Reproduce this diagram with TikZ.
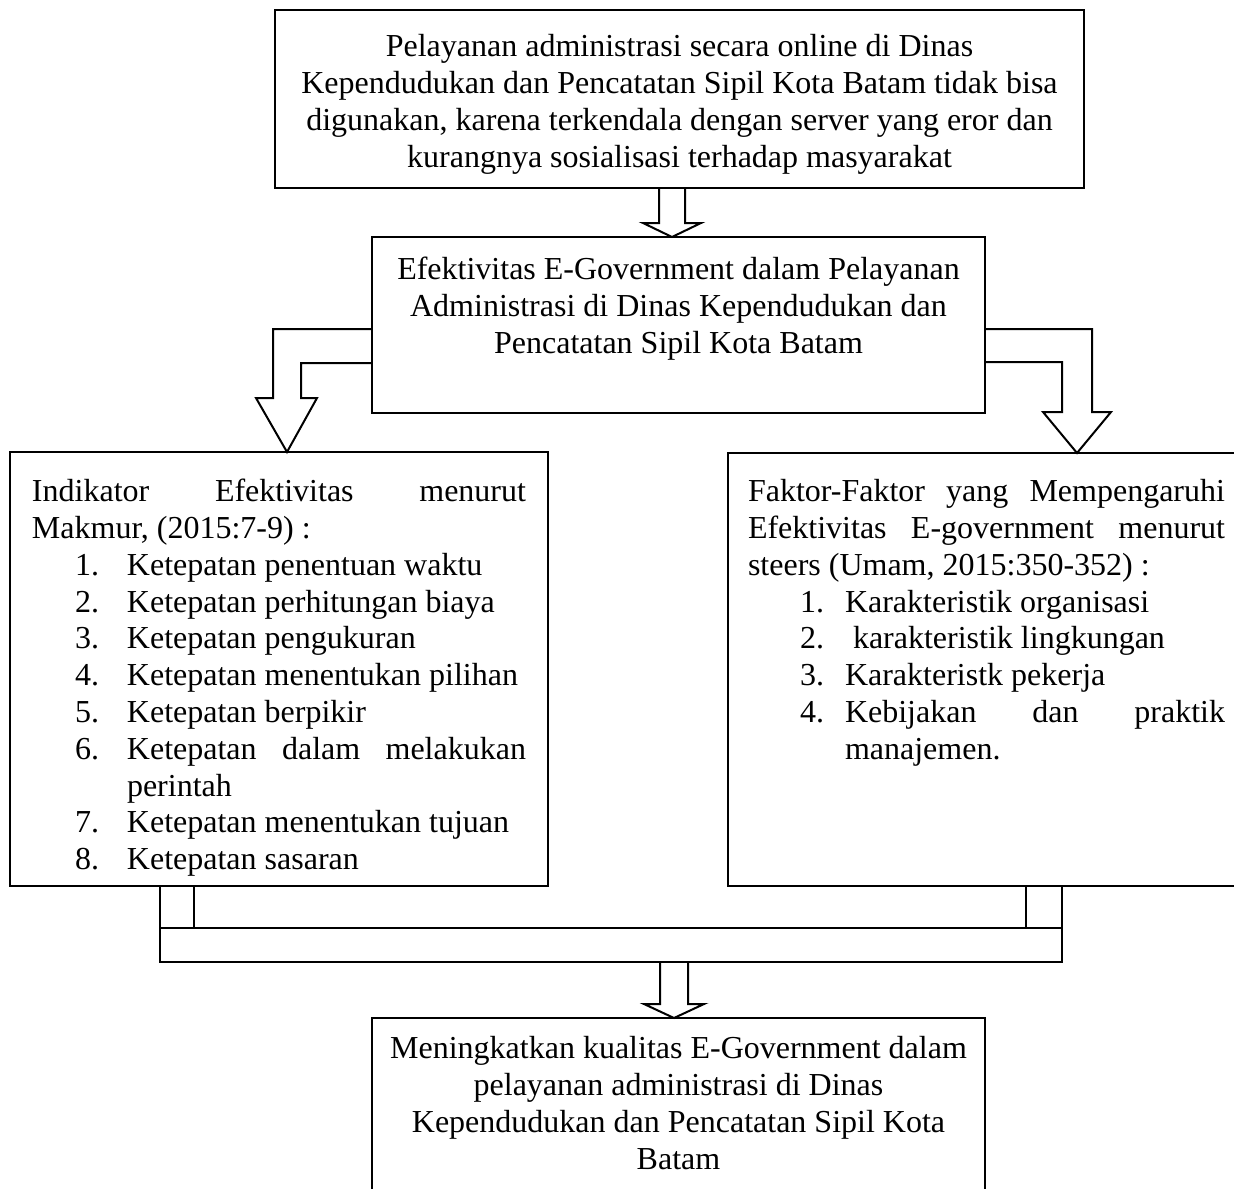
\documentclass[tikz,border=0pt]{standalone}
\usepackage{fontspec}
\setmainfont{Liberation Serif}
\usetikzlibrary{calc}
\newdimen\pxu \pxu=0.5pt
\newcommand\bxt[4]{\parbox[c][#1\pxu][t]{#2\pxu}{\hyphenpenalty=10000\exhyphenpenalty=10000\vspace*{#3\pxu}#4}}
\newcommand\itm[4]{\par\noindent\hangindent=#2\pxu\hangafter=1\makebox[#2\pxu][l]{\hspace*{#1\pxu}#3}#4}
\tikzset{
  bx/.style={draw, line width=1pt, inner ysep=0pt, outer sep=0pt, anchor=north west, font=\fontsize{16pt}{18.4pt}\selectfont},
  arr/.style={draw, line width=1pt, line join=miter},
  ln/.style={draw, line width=1pt}
}
\begin{document}
\begin{tikzpicture}[x=0.5pt, y=-0.5pt]
\useasboundingbox (0,0) rectangle (1234,1188);
\fill[white] (0,0) rectangle (1234,1188);
\clip (0,0) rectangle (1234,1188);
\node[bx, inner xsep=2\pxu] (top) at (275,10) {\bxt{178}{805}{21}{\centering\strut Pelayanan administrasi secara online di Dinas\\ Kependudukan dan Pencatatan Sipil Kota Batam tidak bisa\\ digunakan, karena terkendala dengan server yang eror dan\\ kurangnya sosialisasi terhadap masyarakat}};
\node[bx, inner xsep=2\pxu] (mid) at (372,237) {\bxt{176}{609}{17}{\centering\strut Efektivitas E-Government dalam Pelayanan\\ Administrasi di Dinas Kependudukan dan\\ Pencatatan Sipil Kota Batam}};
\node[bx, inner xsep=22\pxu] (left) at (10,452) {\bxt{434}{494}{24}{\strut Indikator Efektivitas menurut\linebreak Makmur, (2015:7-9) :
\itm{43}{95}{1.}{Ketepatan penentuan waktu}
\itm{43}{95}{2.}{Ketepatan perhitungan biaya}
\itm{43}{95}{3.}{Ketepatan pengukuran}
\itm{43}{95}{4.}{Ketepatan menentukan pilihan}
\itm{43}{95}{5.}{Ketepatan berpikir}
\itm{43}{95}{6.}{Ketepatan dalam melakukan\linebreak perintah}
\itm{43}{95}{7.}{Ketepatan menentukan tujuan}
\itm{43}{95}{8.}{Ketepatan sasaran}\par}};
\node[bx, inner xsep=20\pxu] (right) at (728,453) {\bxt{433}{477}{23}{\strut Faktor-Faktor yang Mempengaruhi\linebreak Efektivitas E-government menurut\linebreak steers (Umam, 2015:350-352) :
\itm{52}{97}{1.}{Karakteristik organisasi}
\itm{52}{97}{2.}{\ karakteristik lingkungan}
\itm{52}{97}{3.}{Karakteristk pekerja}
\itm{52}{97}{4.}{Kebijakan dan praktik\linebreak manajemen.}\par}};
\node[ln, inner sep=0pt, outer sep=0pt, minimum width=902\pxu, minimum height=34\pxu, anchor=north west] (conn) at (160,928) {};
\node[bx, inner xsep=2\pxu] (bot) at (372,1018) {\bxt{180}{609}{15}{\centering\strut Meningkatkan kualitas E-Government dalam\\ pelayanan administrasi di Dinas\\ Kependudukan dan Pencatatan Sipil Kota\\ Batam}};
% top arrow
\draw[arr] ($(top.south west)+(384,0)$) |- ++(-16,35) -- ($(mid.north west)+(300,0)$) -- ++(29,-14) -- ++(-16,0) |- ($(top.south west)+(410,0)$);
% left bent arrow
\draw[arr] ($(mid.north west)+(0,92)$) -| ++(-99,69) -- ++(-17,0) -- ($(left.north west)+(277,0)$) -- ++(30,-54) -- ++(-16,0) |- ($(mid.north west)+(0,126)$);
% right bent arrow
\draw[arr] ($(mid.north east)+(0,92)$) -| ++(107,83) -- ++(19,0) -- ($(right.north west)+(349,0)$) -- ++(-34,-41) -- ++(19,0) |- ($(mid.north east)+(0,125)$);
% connectors to the joining bar
\draw[ln] ($(left.south west)+(150,0)$) -- (conn.north west);
\draw[ln] ($(left.south west)+(184,0)$) -- ($(conn.north west)+(34,0)$);
\draw[ln] ($(right.south west)+(298,0)$) -- ($(conn.north east)+(-36,0)$);
\draw[ln] ($(right.south west)+(334,0)$) -- (conn.north east);
% bottom arrow
\draw[arr] ($(conn.south west)+(500,0)$) |- ++(-16,42) -- ($(bot.north west)+(302,0)$) -- ++(30,-14) -- ++(-16,0) |- ($(conn.south west)+(528,0)$);
\end{tikzpicture}
\end{document}
